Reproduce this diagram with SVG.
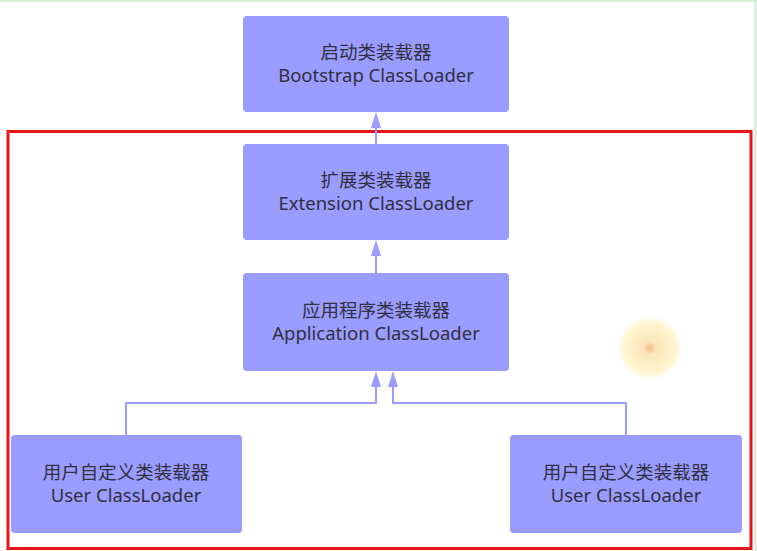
<svg xmlns="http://www.w3.org/2000/svg" width="757" height="551" viewBox="0 0 757 551">
<defs>
<style>
.box{fill:#9a9cff;}
.t{font-family:"Noto Sans","Noto Sans CJK SC",sans-serif;font-size:18.5px;fill:#2f3040;text-anchor:middle;}
.c{fill:none;stroke:#9a9cff;stroke-width:2;}
.ah{fill:#9a9cff;}
</style>
<radialGradient id="glow" cx="0.5" cy="0.5" r="0.5">
<stop offset="0" stop-color="#f3b98a"/>
<stop offset="0.2" stop-color="#fbe6b8"/>
<stop offset="0.8" stop-color="#fff6d2"/>
<stop offset="1" stop-color="#fffbea" stop-opacity="0"/>
</radialGradient>
</defs>
<rect width="757" height="551" fill="#ffffff"/>
<line x1="0" y1="1" x2="757" y2="1" stroke="#d8eedb" stroke-width="2"/>
<line x1="755.5" y1="0" x2="755.5" y2="551" stroke="#cfe9d3" stroke-width="2"/>
<rect x="8" y="131.5" width="743" height="417" fill="none" stroke="#e8141a" stroke-width="3"/>
<circle cx="650" cy="348" r="33" fill="url(#glow)"/>
<g id="connectors">
<path class="c" d="M376,144 V128"/>
<polygon class="ah" points="376,112 371,128 381,128"/>
<path class="c" d="M376,273 V256"/>
<polygon class="ah" points="376,240 371,256 381,256"/>
<path class="c" d="M126,435 V403 H376 V387"/>
<polygon class="ah" points="376,371 371,387 381,387"/>
<path class="c" d="M626,435 V403 H393 V387"/>
<polygon class="ah" points="393,371 388,387 398,387"/>
</g>
<g id="bootstrap">
<rect class="box" x="243" y="16" width="266" height="96" rx="4"/>
<text class="t" x="376" y="59">启动类装载器</text>
<text class="t" x="376" y="82">Bootstrap ClassLoader</text>
</g>
<g id="extension">
<rect class="box" x="243" y="144" width="266" height="96" rx="4"/>
<text class="t" x="376" y="187">扩展类装载器</text>
<text class="t" x="376" y="210">Extension ClassLoader</text>
</g>
<g id="application">
<rect class="box" x="243" y="273" width="266" height="98" rx="4"/>
<text class="t" x="376" y="317">应用程序类装载器</text>
<text class="t" x="376" y="340">Application ClassLoader</text>
</g>
<g id="user1">
<rect class="box" x="11" y="435" width="231" height="98" rx="4"/>
<text class="t" x="126" y="479">用户自定义类装载器</text>
<text class="t" x="126" y="502">User ClassLoader</text>
</g>
<g id="user2">
<rect class="box" x="510" y="435" width="232" height="98" rx="4"/>
<text class="t" x="626" y="479">用户自定义类装载器</text>
<text class="t" x="626" y="502">User ClassLoader</text>
</g>
</svg>
